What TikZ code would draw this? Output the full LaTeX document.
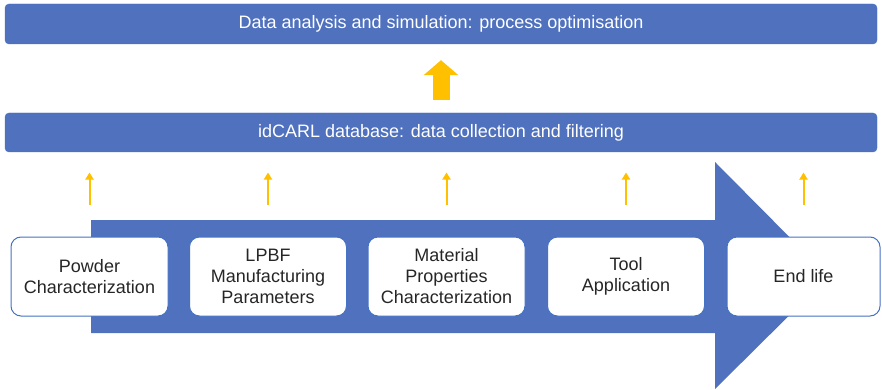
\documentclass[tikz,border=0pt]{standalone}
\usepackage{fontspec}
\setmainfont{Liberation Sans}
\usetikzlibrary{arrows.meta}
\definecolor{flowblue}{HTML}{4F71BE}
\definecolor{edgeblue}{HTML}{4472C4}
\definecolor{upgold}{HTML}{FFC000}
\definecolor{boxtext}{HTML}{262626}
\tikzstyle{bar}=[fill=flowblue, draw=edgeblue, rounded corners=4pt, minimum width=872pt, minimum height=40pt, inner sep=0pt, text=white, font=\fontsize{18}{21}\selectfont]
\tikzstyle{stage}=[fill=white, draw=edgeblue, line width=1pt, rounded corners=10pt, minimum width=157pt, minimum height=79pt, inner sep=0pt, align=center, text=boxtext, font=\fontsize{18}{21}\selectfont]
\tikzstyle{upflow}=[draw=upgold, line width=2pt, -{Triangle[width=8pt,length=7pt]}]
\tikzstyle{bigflow}=[draw=upgold, line width=17pt, -{Triangle[width=34pt,length=15pt]}]

\begin{document}
\begin{tikzpicture}[x=1pt, y=-1pt]
        \useasboundingbox (0,0) rectangle (882,390);
        \node[bar] (sim) at (441, 24) {Data analysis and simulation: process optimisation};
        \node[bar, minimum height=39pt] (db) at (441, 132.5) {idCARL database: data collection and filtering};
        \draw[bigflow] ([yshift=13pt]db.north) -- ([yshift=-16pt]sim.south);
        \fill[flowblue] (91, 220) -- (715, 220) -- (715, 162) -- (828.5, 276.5)
            -- (715, 389) -- (715, 333) -- (91, 333) -- cycle;
        \node[stage] (S1) at (89.5, 276.5) {Powder\\Characterization};
        \node[stage] (S2) at (268, 276.5) {LPBF\\Manufacturing\\Parameters};
        \node[stage] (S3) at (446.5, 276.5) {Material\\Properties\\Characterization};
        \node[stage] (S4) at (626, 276.5) {Tool\\Application};
        \node[stage, minimum width=153pt] (S5) at (803.5, 276.5) {End life};
        \draw[upflow] ([yshift=32pt]S1.north) -- ([yshift=64pt]S1.north);
        \draw[upflow] ([yshift=32pt]S2.north) -- ([yshift=64pt]S2.north);
        \draw[upflow] ([yshift=32pt]S3.north) -- ([yshift=64pt]S3.north);
        \draw[upflow] ([yshift=32pt]S4.north) -- ([yshift=64pt]S4.north);
        \draw[upflow] ([yshift=32pt]S5.north) -- ([yshift=64pt]S5.north);
    \end{tikzpicture}
\end{document}
